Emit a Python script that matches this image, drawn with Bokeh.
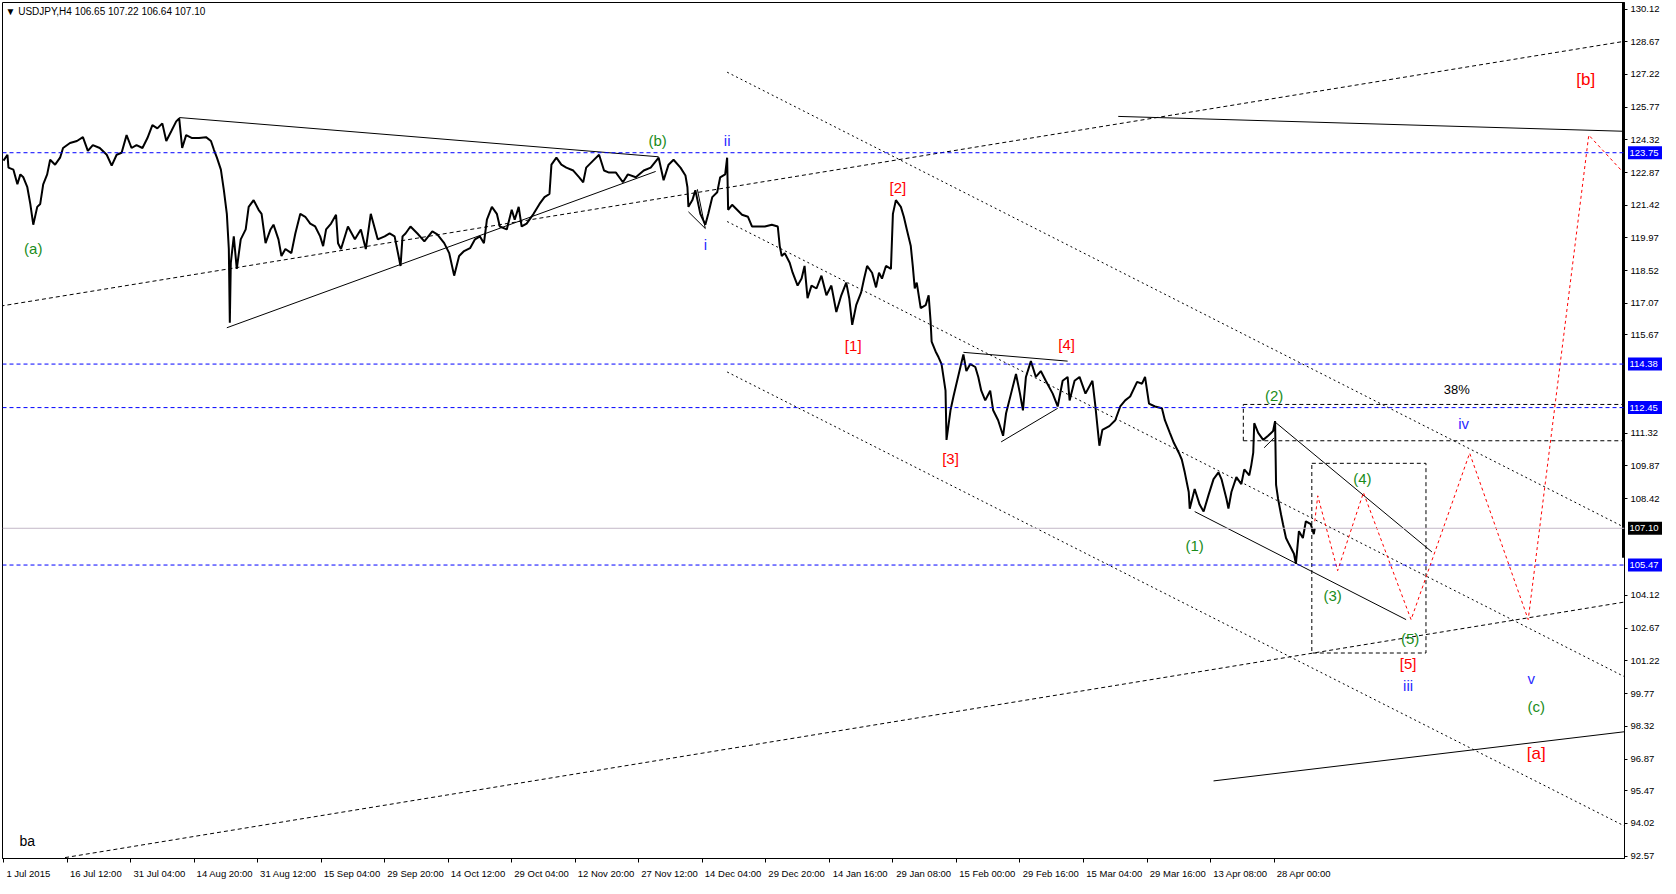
from bokeh.plotting import figure
from bokeh.models import Range1d, FixedTicker, Label, Span, PrintfTickFormatter
from bokeh.layouts import row
from bokeh.core.properties import value
from bokeh.embed import file_html
from bokeh.resources import INLINE

# ---------------- data ----------------
# H4 bar index (0 = 1 Jul 2015) and price
price_path = [
    (0, 123.40), (4, 123.66), (5, 123.09), (10, 123.00), (14, 122.35), (17, 122.79), (20, 122.66),
    (24, 122.22), (27, 121.48), (30, 120.56), (34, 121.35), (37, 121.48), (40, 122.35), (44, 122.79),
    (47, 123.44), (52, 123.22), (57, 123.53), (60, 123.96), (67, 124.18), (74, 124.27), (80, 124.44),
    (85, 123.83), (90, 124.09), (97, 123.96), (104, 123.66), (109, 123.18), (114, 123.66), (119, 123.75),
    (124, 124.53), (129, 123.96), (134, 124.09), (140, 123.96), (145, 124.40), (150, 124.97), (155, 124.83),
    (160, 125.05), (164, 124.27), (169, 124.70), (174, 125.14), (177, 125.27), (180, 123.96), (184, 124.53),
    (190, 124.40), (197, 124.40), (204, 124.44), (209, 124.27), (212, 123.88), (215, 123.53), (219, 123.00),
    (222, 122.09), (225, 121.04), (227, 119.48), (228, 116.21), (229, 118.87), (232, 120.04), (235, 118.60),
    (239, 119.91), (244, 120.35), (247, 121.35), (252, 121.65), (257, 121.22), (260, 121.04), (264, 119.74),
    (269, 120.35), (272, 120.56), (277, 119.91), (280, 119.17), (284, 119.48), (290, 119.30), (294, 120.17),
    (299, 121.04), (304, 120.91), (309, 120.61), (314, 120.48), (319, 120.04), (322, 119.61), (325, 120.35),
    (330, 120.61), (335, 121.00), (337, 119.74), (340, 119.48), (347, 120.48), (354, 119.91), (360, 120.35),
    (365, 119.48), (370, 121.04), (377, 119.91), (384, 120.04), (389, 120.17), (394, 120.04), (400, 118.73),
    (402, 120.04), (405, 120.17), (410, 120.48), (417, 120.17), (424, 119.82), (432, 120.26), (437, 120.13),
    (444, 119.74), (449, 119.30), (454, 118.30), (459, 119.17), (464, 119.39), (470, 119.52), (475, 119.91),
    (480, 120.04), (484, 119.74), (487, 120.78), (492, 121.35), (497, 121.04), (500, 120.48), (507, 120.35),
    (512, 121.22), (515, 120.78), (519, 121.35), (522, 120.48), (527, 120.61), (534, 121.04), (540, 121.48),
    (545, 121.78), (550, 121.92), (552, 123.22), (557, 123.53), (562, 123.22), (567, 123.09), (574, 122.96),
    (580, 122.66), (584, 122.44), (587, 123.09), (594, 123.40), (600, 123.66), (605, 122.96), (610, 122.87),
    (617, 122.87), (624, 122.44), (629, 122.79), (637, 122.66), (645, 122.96), (652, 123.09), (660, 123.53),
    (665, 122.53), (670, 123.22), (675, 123.44), (682, 123.09), (687, 122.74), (689, 122.22), (690, 121.35),
    (694, 121.65), (697, 122.09), (702, 121.04), (707, 120.56), (710, 121.04), (714, 121.78), (719, 122.00),
    (722, 122.66), (727, 122.79), (729, 123.53), (730, 121.22), (734, 121.44), (739, 121.22), (744, 121.00),
    (750, 120.91), (754, 120.48), (760, 120.48), (767, 120.48), (774, 120.56), (780, 120.48), (782, 119.61),
    (784, 119.17), (787, 119.30), (792, 118.87), (795, 118.43), (800, 117.86), (804, 118.17), (807, 118.73),
    (810, 117.30), (814, 117.86), (819, 117.73), (824, 118.30), (829, 117.43), (834, 117.86), (839, 116.69),
    (844, 117.43), (849, 117.99), (852, 117.30), (855, 116.12), (859, 116.99), (864, 117.56), (867, 118.17),
    (870, 118.73), (875, 118.43), (879, 117.78), (882, 118.43), (885, 118.17), (889, 118.73), (894, 118.60),
    (896, 121.04), (899, 121.65), (904, 121.35), (907, 120.91), (910, 120.35), (914, 119.61), (916, 118.73),
    (918, 117.73), (920, 117.99), (924, 116.86), (929, 116.99), (932, 117.43), (934, 116.25), (935, 115.38),
    (939, 114.94), (942, 114.68), (945, 114.38), (949, 113.20), (950, 111.02), (954, 112.33), (957, 112.94),
    (960, 113.51), (964, 114.25), (967, 114.81), (970, 114.07), (974, 114.38), (979, 114.25), (982, 113.81),
    (985, 113.20), (989, 112.77), (994, 113.20), (997, 112.33), (1002, 111.89), (1007, 111.20), (1010, 112.20),
    (1015, 113.07), (1020, 113.94), (1024, 113.07), (1027, 112.33), (1030, 113.81), (1035, 114.51),
    (1040, 113.81), (1045, 114.07), (1050, 113.64), (1057, 113.07), (1062, 112.50), (1067, 113.64),
    (1072, 113.81), (1074, 112.77), (1079, 113.64), (1084, 113.81), (1090, 113.07), (1097, 113.64),
    (1100, 112.50), (1102, 111.63), (1104, 110.76), (1107, 111.46), (1114, 111.63), (1120, 111.89),
    (1125, 112.50), (1130, 112.77), (1135, 112.94), (1142, 113.59), (1147, 113.51), (1150, 113.81),
    (1154, 112.63), (1160, 112.50), (1167, 112.42), (1170, 111.89), (1175, 111.33), (1179, 110.89),
    (1184, 110.45), (1187, 110.15), (1190, 109.58), (1194, 108.71), (1195, 107.97), (1200, 108.84),
    (1205, 108.15), (1209, 107.84), (1214, 108.58), (1219, 109.28), (1224, 109.58), (1227, 109.28),
    (1232, 108.41), (1234, 107.97), (1237, 108.71), (1242, 109.37), (1247, 109.06), (1250, 109.71),
    (1255, 109.45), (1257, 109.89), (1259, 110.45), (1260, 111.76), (1264, 111.33), (1269, 111.02),
    (1274, 111.20), (1279, 111.41), (1281, 111.85), (1282, 109.02), (1284, 108.41), (1287, 107.71),
    (1289, 107.28), (1292, 106.67), (1295, 106.40), (1300, 105.97), (1302, 105.53), (1305, 106.97),
    (1309, 106.67), (1312, 107.41), (1317, 107.28), (1320, 106.84), (1321, 107.10),
]
price_bar = [b for b, _ in price_path]
price_val = [v for _, v in price_path]

# time axis labels (one every 64 H4 bars)
time_tick_bars = [0, 64, 128, 192, 256, 320, 384, 448, 512, 576, 640, 704, 768, 832, 896, 960, 1024, 1088, 1152, 1216, 1280]
time_tick_labels = ["1 Jul 2015", "16 Jul 12:00", "31 Jul 04:00", "14 Aug 20:00", "31 Aug 12:00", "15 Sep 04:00",
                    "29 Sep 20:00", "14 Oct 12:00", "29 Oct 04:00", "12 Nov 20:00", "27 Nov 12:00", "14 Dec 04:00",
                    "29 Dec 20:00", "14 Jan 16:00", "29 Jan 08:00", "15 Feb 00:00", "29 Feb 16:00", "15 Mar 04:00",
                    "29 Mar 16:00", "13 Apr 08:00", "28 Apr 00:00"]

price_ticks = [130.12, 128.67, 127.22, 125.77, 124.32, 122.87, 121.42, 119.97, 118.52, 117.07, 115.67,
               111.32, 109.87, 108.42, 104.12, 102.67, 101.22, 99.77, 98.32, 96.87, 95.47, 94.02, 92.57]

blue_levels = [123.75, 114.38, 112.45, 105.47]
last_price = 107.10

# long dashed trend lines (bar0, price0, bar1, price1)
dash_x0 = [-3, 62]
dash_y0 = [116.95, 92.50]
dash_x1 = [1633, 1633]
dash_y1 = [128.69, 103.83]

# dotted descending channel
chan_x0 = [729, 729, 729]
chan_y0 = [127.32, 120.70, 114.03]
chan_x1 = [1633, 1633, 1633]
chan_y1 = [107.14, 100.52, 93.90]

# solid trend lines
solid_x0 = [177, 225, 690, 699, 967, 1005, 1123, 1219, 1200, 1281, 1270]
solid_y0 = [125.31, 115.99, 121.13, 122.13, 114.90, 110.93, 125.36, 95.90, 107.84, 111.81, 110.67]
solid_x1 = [660, 657, 707, 707, 1072, 1062, 1633, 1633, 1413, 1439, 1280]
solid_y1 = [123.57, 122.92, 120.39, 120.39, 114.51, 112.42, 124.70, 98.08, 103.05, 106.05, 111.11]

# dashed boxes
box1_left, box1_right, box1_top, box1_bottom = 1249, 1633, 112.59, 110.98
box2_left, box2_right, box2_top, box2_bottom = 1318, 1433, 109.98, 101.57

# red projected path
proj_bar = [1321, 1324, 1344, 1370, 1418, 1477, 1536, 1597, 1630]
proj_val = [107.41, 108.54, 105.22, 108.68, 103.05, 110.43, 103.05, 124.53, 122.96]

# wave labels
wave_text = ["(a)", "(b)", "ii", "i", "[2]", "[1]", "[3]", "[4]", "(1)", "(2)", "(3)", "(4)", "(5)",
             "[5]", "iii", "iv", "38%", "v", "(c)", "[a]", "[b]"]
wave_bar = [30, 659, 729, 707, 901, 856, 954, 1071, 1200, 1280, 1339, 1369, 1417, 1415, 1415, 1471,
            1464, 1539, 1544, 1544, 1594]
wave_price = [119.52, 124.27, 124.27, 119.69, 122.22, 115.21, 110.19, 115.25, 106.32, 112.98, 104.14,
              109.32, 102.22, 101.09, 100.13, 111.76, 113.24, 100.43, 99.21, 97.12, 127.01]

# ---------------- styling ----------------
GREEN = "#1a8c1a"
RED = "#ff0000"
BLUE = "#2b2bff"
FONT = "Liberation Sans"
AXIS_FS = 9.5

FRAME_W, FRAME_H = 1622, 856
AXIS_COL = 36
X0, X1 = -1, 1633


def wave_color(t):
    if t.startswith("("):
        return GREEN
    if t.startswith("["):
        return RED
    if t == "38%":
        return "#000000"
    return BLUE


CHAR_W = {' ': 0.278, ':': 0.278, '.': 0.278, 'J': 0.5, 'l': 0.222, 't': 0.278, 'r': 0.333, 'c': 0.5,
          'v': 0.5, 'A': 0.667, 'S': 0.667, 'O': 0.778, 'N': 0.722, 'D': 0.722, 'F': 0.611, 'M': 0.833}


def text_width(s, fs):
    return sum(CHAR_W.get(ch, 0.556) for ch in s) * fs


# ---------------- main figure ----------------
p = figure(frame_width=FRAME_W, frame_height=FRAME_H, output_backend="svg", toolbar_location=None,
           title=None, x_range=Range1d(X0, X1), y_range=Range1d(92.46, 130.41),
           y_axis_location="right", min_border_left=2, min_border_top=2, min_border_right=AXIS_COL,
           background_fill_color="white", border_fill_color="white",
           outline_line_color="black", outline_line_width=1)
p.xgrid.visible = False
p.ygrid.visible = False

# x axis: tick marks at the bar positions (minor ticks), labels left-aligned after each tick
px_per_bar = FRAME_W / (X1 - X0)
label_centers = [int(round(b + (3 + text_width(t, AXIS_FS) / 2) / px_per_bar))
                 for b, t in zip(time_tick_bars, time_tick_labels)]
xa = p.xaxis[0]
xa.ticker = FixedTicker(ticks=label_centers, minor_ticks=time_tick_bars)
xa.major_label_overrides = {c: t for c, t in zip(label_centers, time_tick_labels)}
xa.major_tick_line_color = None
xa.major_tick_in = 0
xa.major_tick_out = 0
xa.minor_tick_line_color = "black"
xa.minor_tick_in = 0
xa.minor_tick_out = 4
xa.major_label_standoff = 5
xa.major_label_text_font = FONT
xa.major_label_text_font_size = f"{AXIS_FS}px"
xa.major_label_text_color = "black"
xa.axis_line_color = "black"

ya = p.yaxis[0]
ya.ticker = FixedTicker(ticks=price_ticks)
ya.formatter = PrintfTickFormatter(format="%.2f")
ya.minor_tick_line_color = None
ya.major_tick_in = 0
ya.major_tick_out = 3
ya.major_label_standoff = 3
ya.major_label_text_font = FONT
ya.major_label_text_font_size = f"{AXIS_FS}px"
ya.major_label_text_color = "black"
ya.axis_line_color = "black"

# horizontal levels
for lv in blue_levels:
    p.add_layout(Span(location=lv, dimension="width", line_color="#0000ff", line_dash="4 3", line_width=1))
p.add_layout(Span(location=last_price, dimension="width", line_color="#c4b8c8", line_width=1))

# trend lines
p.segment(dash_x0, dash_y0, dash_x1, dash_y1, line_color="black", line_dash="4 3", line_width=1)
p.segment(chan_x0, chan_y0, chan_x1, chan_y1, line_color="black", line_dash="2 3", line_width=1)
p.segment(solid_x0, solid_y0, solid_x1, solid_y1, line_color="black", line_width=1)

# dashed boxes
p.segment([box1_left, box1_left, box1_left], [box1_bottom, box1_top, box1_bottom],
          [box1_left, box1_right, box1_right], [box1_top, box1_top, box1_bottom],
          line_color="black", line_dash="4 3", line_width=1)
p.quad(left=[box2_left], right=[box2_right], top=[box2_top], bottom=[box2_bottom],
       fill_color=None, line_color="black", line_dash="4 3", line_width=1)

# price
p.line(price_bar, price_val, line_color="black", line_width=2)

# projection
p.line(proj_bar, proj_val, line_color=RED, line_dash="3 3", line_width=1)

# thick scale marker at right edge
p.segment([X1], [105.79], [X1], [130.41], line_color="black", line_width=5)

# wave labels
for t, b, v in zip(wave_text, wave_bar, wave_price):
    size = "17px" if t in ("[a]", "[b]") else ("13px" if t == "38%" else "15px")
    p.add_layout(Label(x=b, y=v, text=t, text_color=wave_color(t), text_font=FONT, text_font_size=size,
                       text_align="center", text_baseline="middle"))

p.add_layout(Label(x=24, y=93.24, text="ba", text_color="black", text_font=FONT, text_font_size="14px",
                   text_align="center", text_baseline="middle"))

p.add_layout(Label(x=2, y=130.02, text="\u25bc USDJPY,H4  106.65 107.22 106.64 107.10", text_color="black",
                   text_font=FONT, text_font_size="10px", text_align="left", text_baseline="middle"))

# ---------------- price boxes over the price scale (overlaid strip) ----------------
box_levels = blue_levels + [last_price]
box_texts = [f"{lv:.2f}" for lv in box_levels]
box_colors = ["#0000ff"] * len(blue_levels) + ["#000000"]

side = figure(frame_width=AXIS_COL, frame_height=FRAME_H, output_backend="svg", toolbar_location=None,
              title=None, x_range=Range1d(0, AXIS_COL), y_range=p.y_range,
              x_axis_location=None, y_axis_location=None,
              min_border_left=0, min_border_right=0, min_border_top=2, min_border_bottom=0,
              background_fill_alpha=0, border_fill_alpha=0, outline_line_color=None)
side.xgrid.visible = False
side.ygrid.visible = False
side.rect(x=[AXIS_COL / 2 + 1] * len(box_levels), y=box_levels, width=AXIS_COL - 1, height=13,
          width_units="screen", height_units="screen", fill_color=box_colors, line_color=None)
side.text(x=[3] * len(box_levels), y=box_levels, text=box_texts, text_color="white",
          text_font=value(FONT), text_font_size=f"{AXIS_FS}px", text_baseline="middle", text_align="left")
side.align = "start"
try:
    side.margin = (0, 0, 0, -AXIS_COL)
except Exception:
    side.styles = {"margin-left": f"-{AXIS_COL}px"}

layout = row(p, side)
open("out.html", "w").write(file_html(layout, INLINE))
